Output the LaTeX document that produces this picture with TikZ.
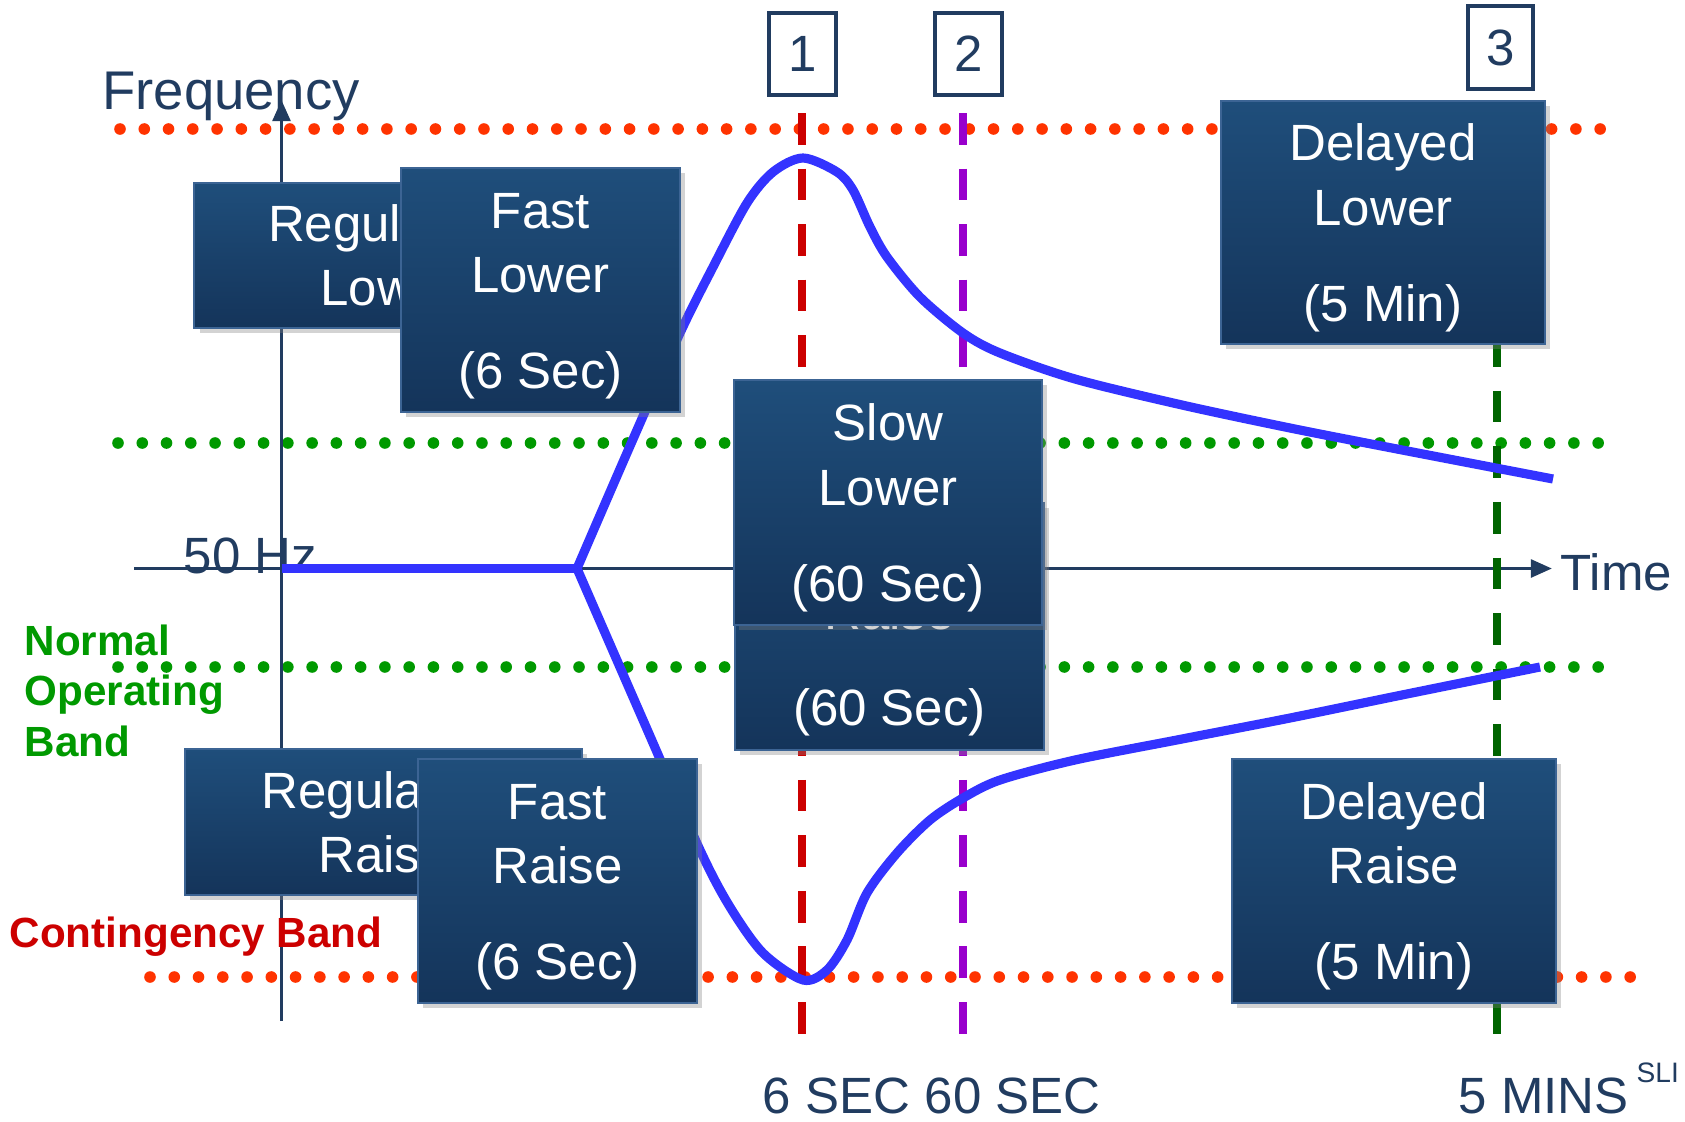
\documentclass[tikz,border=0pt]{standalone}
\usepackage{fontspec}
\setmainfont{Liberation Sans}
\usetikzlibrary{arrows.meta,shadows}

\definecolor{boxtop}{RGB}{31,78,123}
\definecolor{boxbot}{RGB}{20,52,90}
\definecolor{boxedge}{RGB}{60,100,148}
\definecolor{axisblue}{RGB}{33,60,96}
\definecolor{curveblue}{RGB}{51,51,255}
\definecolor{bandred}{RGB}{255,51,0}
\definecolor{bandgreen}{RGB}{0,153,0}
\definecolor{labelred}{RGB}{204,0,0}
\definecolor{sixred}{RGB}{204,0,0}
\definecolor{sixtypurple}{RGB}{153,0,204}
\definecolor{fivegreen}{RGB}{0,100,0}

\newcommand{\boxfont}{\fontsize{14.5}{18.3}\selectfont}
\newcommand{\bandfont}{\fontsize{12}{14.4}\selectfont\bfseries}
\newcommand{\topgap}{\rule{0pt}{13.6pt}}

\begin{document}
\begin{tikzpicture}[x=0.01cm, y=-0.01cm, >={Triangle[length=6pt,width=5pt]},
    ctrlbox/.style={draw=boxedge, line width=0.6pt, top color=boxtop, bottom color=boxbot,
      text=white, font=\boxfont, align=center, inner sep=0pt,
      drop shadow={shadow xshift=1.5pt, shadow yshift=-1.5pt, opacity=0.35}},
    numbox/.style={draw=axisblue, line width=1pt, fill=white, text=axisblue, font=\boxfont,
      minimum width=0.67cm, minimum height=0.82cm, inner sep=0pt},
    redband/.style={bandred, line width=3.3pt, line cap=round, dash pattern=on 0pt off 6.9pt},
    greenband/.style={bandgreen, line width=3.3pt, line cap=round, dash pattern=on 0pt off 6.9pt},
    marker/.style={line width=2.2pt, dash pattern=on 9pt off 6.8pt},
    axisline/.style={axisblue, line width=1.1pt},
    freqcurve/.style={curveblue, line width=2.6pt, line join=round},
    axislabel/.style={text=axisblue, font=\boxfont, inner sep=0pt}]
  \useasboundingbox (0,0) rectangle (1685,1121);

  % bands
  \draw[redband] (120,129) -- (1604,129);
  \draw[greenband] (118,443) -- (1604,443);
  \draw[greenband] (118,667) -- (1604,667);
  \draw[redband] (150,977) -- (1632,977);

  % axes
  \coordinate (fbot) at (281.5,1021);
  \coordinate (ftop) at (281.5,100);
  \coordinate (tleft) at (134,568.5);
  \coordinate (tright) at (1552,568.5);
  \draw[axisline,->] (fbot) -- (ftop);
  \draw[axisline,->] (tleft) -- (tright);
  \node[axislabel, font=\fontsize{15.5}{18}\selectfont, anchor=base] (freq) at (231,109) {Frequency};
  \node[axislabel, anchor=base west] (time) at (1560,590) {Time};
  \node[axislabel, anchor=base west] (hz) at (183,573) {50 Hz};

  % time markers
  \node[numbox] (mark1) at (802.5,54) {1};
  \node[numbox] (mark2) at (968.5,54) {2};
  \node[numbox, minimum width=0.65cm, minimum height=0.83cm] (mark3) at (1500.5,47.5) {3};
  \coordinate (s6a) at (802,113);
  \coordinate (s6b) at (802,1040);
  \coordinate (s60a) at (963,113);
  \coordinate (s60b) at (963,1040);
  \coordinate (m5a) at (1497,113);
  \coordinate (m5b) at (1497,1035);
  \draw[marker, sixred] (s6a) -- (s6b);
  \draw[marker, sixtypurple] (s60a) -- (s60b);
  \draw[marker, fivegreen] (m5a) -- (m5b);
  \node[axislabel, anchor=base west] (lab6) at (762,1113) {6 SEC};
  \node[axislabel, anchor=base west] (lab60) at (924,1113) {60 SEC};
  \node[axislabel, anchor=base west] (lab5) at (1458,1113) {5 MINS};
  \node[text=axisblue, font=\fontsize{8}{9}\selectfont, anchor=base west, inner sep=0pt] (slide) at (1636,1082) {SLI};

  % frequency response
  \coordinate (split) at (577,568.5);
  \draw[freqcurve] (281.5,568.5) -- (split);
  \draw[freqcurve] plot[smooth, tension=0.5] coordinates {(split) (630,446) (680,333) (713,267)
    (747,203) (773,172) (803,158) (837,172) (853,190) (870,227) (887,257) (920,297)
    (963,333) (1000,353) (1075,379) (1182,405) (1290,428) (1397,449) (1553,479)};
  \draw[freqcurve] plot[smooth, tension=0.5] coordinates {(split) (643,720) (700,850) (730,907)
    (763,953) (803,980) (827,970) (847,940) (867,893) (897,853) (930,820) (963,798)
    (1000,780) (1075,760) (1182,739) (1290,718) (1397,696) (1540,667)};

  % band labels
  \node[text=bandgreen, font=\bandfont, align=left, anchor=north west, inner sep=0pt] (normal) at (24,624) {Normal\\Operating\\Band};
  \node[text=labelred, font=\bandfont, anchor=base west, inner sep=0pt] (contin) at (9,947) {Contingency Band};

  % services
  \node[ctrlbox, minimum width=3.91cm, minimum height=1.45cm] (reglower) at (390,255.5) {Regulating\\Lower};
  \node[ctrlbox, minimum width=2.79cm, minimum height=2.44cm] (fastlower) at (540.5,290) {\topgap Fast\\Lower\\[9pt](6 Sec)};
  \node[ctrlbox, minimum width=3.09cm, minimum height=2.47cm] (slowraise) at (889.5,626.5) {\topgap Slow\\Raise\\[9pt](60 Sec)};
  \node[ctrlbox, minimum width=3.08cm, minimum height=2.45cm] (slowlower) at (888,502.5) {\topgap Slow\\Lower\\[9pt](60 Sec)};
  \node[ctrlbox, minimum width=3.97cm, minimum height=1.46cm] (regraise) at (383.5,822) {Regulating\\Raise};
  \node[ctrlbox, minimum width=2.79cm, minimum height=2.44cm] (fastraise) at (557.5,881) {\topgap Fast\\Raise\\[9pt](6 Sec)};
  \node[ctrlbox, minimum width=3.24cm, minimum height=2.43cm] (delaylower) at (1383,222.5) {\topgap Delayed\\Lower\\[9pt](5 Min)};
  \node[ctrlbox, minimum width=3.24cm, minimum height=2.44cm] (delayraise) at (1394,881) {\topgap Delayed\\Raise\\[9pt](5 Min)};
\end{tikzpicture}
\end{document}
